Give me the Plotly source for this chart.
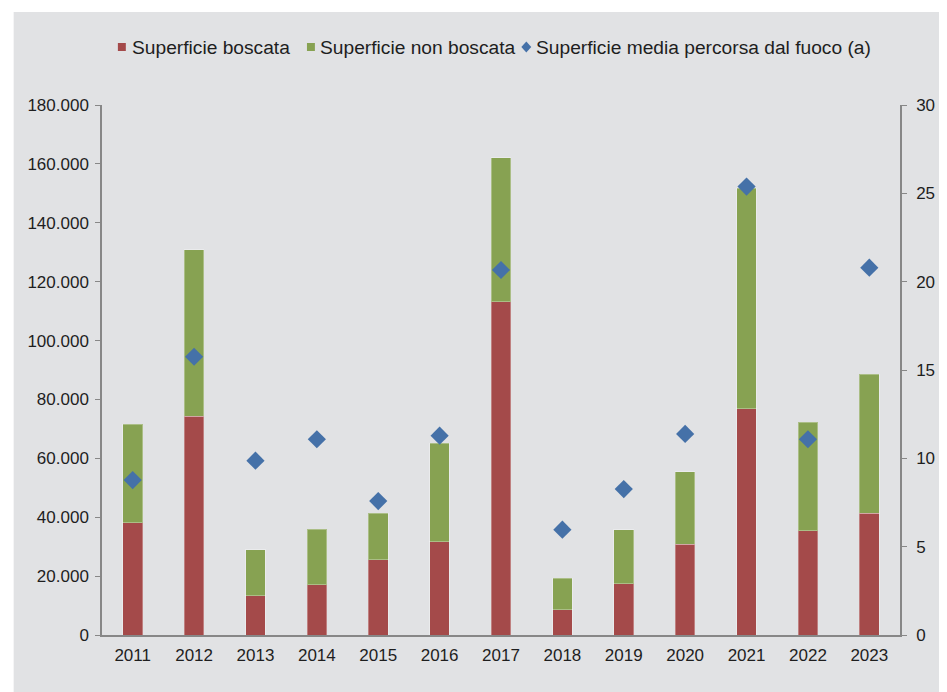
import plotly.graph_objects as go

years = ["2011", "2012", "2013", "2014", "2015", "2016", "2017",
         "2018", "2019", "2020", "2021", "2022", "2023"]
boscata = [38100, 74300, 13400, 17100, 25600, 31700, 113200,
           8600, 17400, 30800, 76800, 35400, 41400]
non_boscata = [33500, 56500, 15500, 18800, 15700, 33500, 48900,
               10700, 18400, 24700, 74900, 36900, 47100]
media = [8.77, 15.75, 9.87, 11.08, 7.58, 11.28, 20.66,
         5.96, 8.26, 11.38, 25.38, 11.08, 20.79]

names = ["Superficie boscata", "Superficie non boscata",
         "Superficie media percorsa dal fuoco (a)"]

RED = "#A44A4A"
GREEN = "#87A252"
BLUE = "#4571A8"
BG = "#E1E2E4"
AXIS = "#878787"
TXT = "#1E1E1E"
FONT = "Liberation Sans, Arial, sans-serif"

# page body has an 8px margin: the figure is placed at (8, 8)
OFF = 8
W, H = 947 - OFF, 692 - OFF
PL, PR, PT, PB = 102, 906, 105, 635   # plot area in window pixels


def px(x):
    return (x - PL) / (PR - PL)


def py(y):
    return (PB - y) / (PB - PT)


fig = go.Figure()
fig.add_trace(go.Bar(x=years, y=boscata, name=names[0], marker_color=RED,
                     marker_line=dict(color="rgba(255,255,255,0.3)", width=1)))
fig.add_trace(go.Bar(x=years, y=non_boscata, name=names[1], marker_color=GREEN,
                     marker_line=dict(color="rgba(255,255,255,0.3)", width=1)))
fig.add_trace(go.Scatter(x=years, y=media, name=names[2], mode="markers", yaxis="y2",
                         marker=dict(symbol="diamond", size=14, color=BLUE)))

# legend drawn in the reference's compact Excel style
legend_items = [(names[0], RED, "square", 122, 130),
                (names[1], GREEN, "square", 312.5, 320),
                (names[2], BLUE, "diamond", 529.5, 537)]
LY = 47
shapes = [dict(type="rect", xref="paper", yref="paper",
               x0=px(13), x1=px(960), y0=py(700), y1=py(12),
               fillcolor=BG, line=dict(width=0), layer="below")]
annotations = []
for nm, col, sym, cx, tx in legend_items:
    if sym == "square":
        shapes.append(dict(type="rect", xref="paper", yref="paper",
                           x0=px(cx - 4), x1=px(cx + 4), y0=py(LY + 4), y1=py(LY - 4),
                           fillcolor=col, line=dict(width=0)))
    else:
        path = "M {} {} L {} {} L {} {} L {} {} Z".format(
            px(cx - 5), py(LY), px(cx), py(LY - 5.5), px(cx + 5), py(LY), px(cx), py(LY + 5.5))
        shapes.append(dict(type="path", xref="paper", yref="paper", path=path,
                           fillcolor=col, line=dict(width=0)))
    annotations.append(dict(text=nm, xref="paper", yref="paper", x=px(tx), y=py(LY),
                            xanchor="left", yanchor="middle", showarrow=False,
                            font=dict(size=19.2, color=TXT, family=FONT)))

fig.update_layout(
    width=W, height=H,
    margin=dict(l=PL - OFF, r=947 - PR, t=PT - OFF, b=692 - PB),
    paper_bgcolor="white",
    plot_bgcolor="rgba(0,0,0,0)",
    barmode="stack",
    bargap=0.68,
    separators=",.",
    showlegend=False,
    font=dict(family=FONT, size=17, color=TXT),
    xaxis=dict(type="category", range=[-0.5, 12.5], showline=True, linecolor=AXIS,
               linewidth=1.5, ticks="", showgrid=False, ticklabelstandoff=4,
               tickfont=dict(size=17, color=TXT)),
    yaxis=dict(range=[0, 180000], dtick=20000, tickformat=",d", showline=True,
               linecolor=AXIS, linewidth=1.5, ticks="outside", ticklen=5,
               tickcolor=AXIS, showgrid=False, zeroline=False,
               ticklabelstandoff=3, tickfont=dict(size=17, color=TXT)),
    yaxis2=dict(range=[0, 30], dtick=5, overlaying="y", side="right", showline=True,
                linecolor=AXIS, linewidth=1.5, ticks="outside", ticklen=5,
                tickcolor=AXIS, showgrid=False, zeroline=False,
                ticklabelstandoff=6, tickfont=dict(size=17, color=TXT)),
    shapes=shapes,
    annotations=annotations,
)

fig.write_html("out.html")
